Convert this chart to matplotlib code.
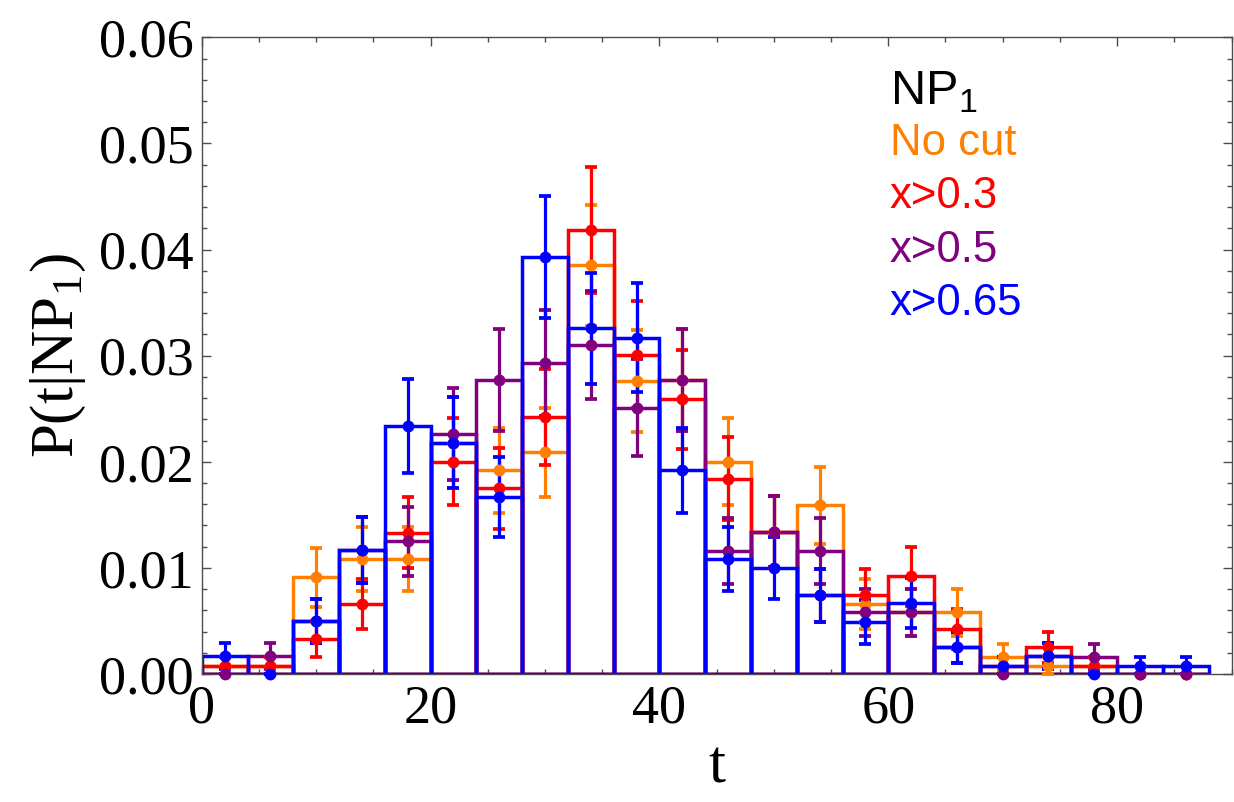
import numpy as np
import matplotlib
matplotlib.use('Agg')
import matplotlib.pyplot as plt
from matplotlib.ticker import MultipleLocator, FormatStrFormatter

#------------------------------------------------------------------------------
# DATA: normalised histograms P(t|NP1), bins of width 4 in t
#------------------------------------------------------------------------------

bin_left = np.arange(0, 88, 4)
bin_width = 4

nocut = [0.0008, 0.0008, 0.0091, 0.0108, 0.0108, 0.0218, 0.0192, 0.0209, 0.0385, 0.0276, 0.0277,
         0.0200, 0.0134, 0.0159, 0.0066, 0.0058, 0.0058, 0.0016, 0.0008, 0.0008, 0.0, 0.0]
nocut_err = [0.00082, 0.00082, 0.00276, 0.00301, 0.00301, 0.00428, 0.00402, 0.00419, 0.00569, 0.00482, 0.00482,
             0.0041, 0.00335, 0.00365, 0.00235, 0.0022, 0.0022, 0.0012, 0.00082, 0.00082, 0.0, 0.0]

x03 = [0.0008, 0.0008, 0.0033, 0.0066, 0.0133, 0.0200, 0.0175, 0.0242, 0.0418, 0.0301, 0.0259,
       0.0184, 0.0134, 0.0074, 0.0074, 0.0092, 0.0042, 0.0008, 0.0025, 0.0008, 0.0, 0.0]
x03_err = [0.00082, 0.00082, 0.00166, 0.00235, 0.00335, 0.0041, 0.00383, 0.00451, 0.00593, 0.00503, 0.00466,
           0.00393, 0.00335, 0.00249, 0.00249, 0.00278, 0.00188, 0.00082, 0.00145, 0.00082, 0.0, 0.0]

x05 = [0.0, 0.0017, 0.0050, 0.0117, 0.0125, 0.0226, 0.0277, 0.0293, 0.0310, 0.0251, 0.0277,
       0.0116, 0.0134, 0.0116, 0.0058, 0.0058, 0.0025, 0.0, 0.0017, 0.0016, 0.0, 0.0]
x05_err = [0.0, 0.0012, 0.00205, 0.00313, 0.00324, 0.00436, 0.00482, 0.00496, 0.0051, 0.00459, 0.00482,
           0.00312, 0.00335, 0.00312, 0.0022, 0.0022, 0.00145, 0.0, 0.0012, 0.0012, 0.0, 0.0]

x065 = [0.0017, 0.0, 0.0050, 0.0117, 0.0234, 0.0218, 0.0167, 0.0393, 0.0326, 0.0317, 0.0192,
        0.0108, 0.0100, 0.0074, 0.0049, 0.0067, 0.0025, 0.0008, 0.0017, 0.0, 0.0008, 0.0008]
x065_err = [0.0012, 0.0, 0.00205, 0.00313, 0.00443, 0.00428, 0.00375, 0.00575, 0.00523, 0.00516, 0.00402,
            0.00301, 0.0029, 0.00249, 0.00203, 0.00237, 0.00145, 0.00082, 0.0012, 0.0, 0.00082, 0.00082]

labels = ['No cut', 'x>0.3', 'x>0.5', 'x>0.65']
colors = ['#ff8000', '#ff0000', '#800080', '#0000ff']

#------------------------------------------------------------------------------
# PLOT
#------------------------------------------------------------------------------

plt.rcParams['mathtext.fontset'] = 'custom'
plt.rcParams['mathtext.rm'] = 'Liberation Serif'
plt.rcParams['mathtext.sf'] = 'Liberation Sans'

fig = plt.figure(figsize=(12.34, 8.02), dpi=100)
ax = fig.add_axes([0.1635, 0.1596, 0.8345, 0.7939])

series = [(nocut, nocut_err), (x03, x03_err), (x05, x05_err), (x065, x065_err)]
centers = bin_left + bin_width/2

for (vals, errs), c in zip(series, colors):
    ax.bar(bin_left, vals, width=bin_width, align='edge', fill=False,
           edgecolor=c, linewidth=2.5, zorder=2)
for (vals, errs), c in zip(series, colors):
    ax.errorbar(centers, vals, yerr=errs, fmt='o', color=c, ms=7.5,
                elinewidth=2.3, capsize=4.0, capthick=2.7, zorder=3, clip_on=False)

ax.set_xlim(0, 90)
ax.set_ylim(0, 0.06)
ax.xaxis.set_major_locator(MultipleLocator(20))
ax.xaxis.set_minor_locator(MultipleLocator(5))
ax.yaxis.set_major_locator(MultipleLocator(0.01))
ax.yaxis.set_minor_locator(MultipleLocator(0.002))
ax.yaxis.set_major_formatter(FormatStrFormatter('%.2f'))

for sp in ax.spines.values():
    sp.set_color('0.3')
    sp.set_linewidth(1.0)
ax.tick_params(which='both', direction='in', top=True, right=True, color='0.3', width=1.0)
ax.tick_params(which='major', length=6.5, labelsize=39, pad=6)
ax.tick_params(which='minor', length=3.6)
for lab in ax.get_xticklabels() + ax.get_yticklabels():
    lab.set_family('Liberation Serif')
ax.tick_params(axis='x', pad=7)

ax.set_xlabel('t', family='Liberation Serif', fontsize=44, labelpad=4)
ax.set_ylabel(r'P(t|NP$_1$)', family='Liberation Serif', fontsize=44, labelpad=8)

# legend as coloured text
ax.text(0.668, 0.894, r'NP$_{\mathsf{1}}$', transform=ax.transAxes, color='black',
        family='Liberation Sans', fontsize=35, va='baseline')
ypos = [0.815, 0.732, 0.647, 0.564]
for lab, c, yy in zip(labels, colors, ypos):
    ax.text(0.668, yy, lab, transform=ax.transAxes, color=c,
            family='Liberation Sans', fontsize=31.5, va='baseline')

plt.savefig('out.png', dpi=100)
plt.close(fig)
